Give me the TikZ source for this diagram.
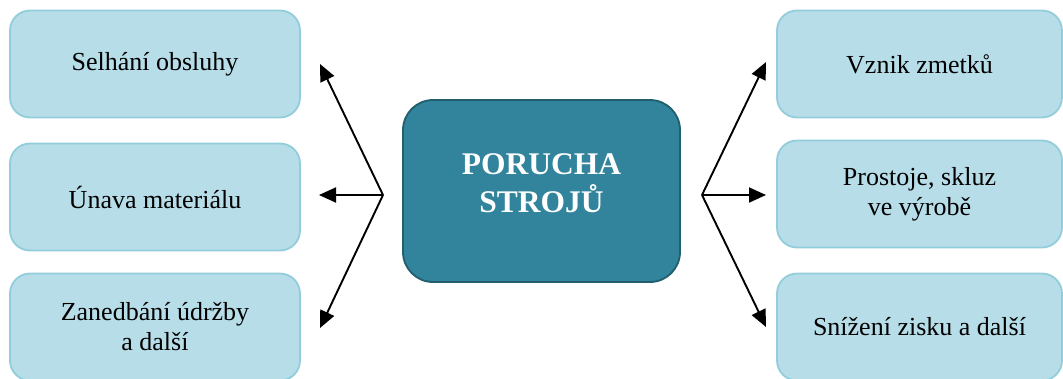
\documentclass[tikz,border=0pt]{standalone}
\usepackage{fontspec}
\setmainfont{Liberation Serif}
\usetikzlibrary{arrows.meta}
\definecolor{boxfill}{HTML}{B7DDE8}
\definecolor{boxedge}{HTML}{92CDDC}
\definecolor{mainfill}{HTML}{31849B}
\definecolor{mainedge}{HTML}{215E6E}
\begin{document}
\begin{tikzpicture}[x=1pt,y=-1pt,
  sidebox/.style={draw=boxedge, fill=boxfill, line width=1.8pt, rounded corners=20pt,
    minimum width=290pt, minimum height=107pt, inner sep=0pt, align=center,
    font=\fontsize{26}{30}\selectfont, text=black},
  mainbox/.style={draw=mainedge, fill=mainfill, line width=1.8pt, rounded corners=30pt,
    minimum width=277pt, minimum height=182pt, inner sep=0pt, align=center,
    font=\fontsize{31.5}{38}\selectfont\bfseries, text=white, text depth=16pt},
  arr/.style={line width=1.9pt, -{Triangle[length=17pt,width=15pt]}}]
\useasboundingbox (0,0) rectangle (1063,378);
\node[sidebox] (l1) at (155,64) {Selhání obsluhy};
\node[sidebox] (l2) at (155,197) {Únava materiálu};
\node[sidebox] (l3) at (155,327) {Zanedbání údržby\\a další};
\node[sidebox, minimum width=285pt] (r1) at (919.5,64) {Vznik zmetků};
\node[sidebox, minimum width=285pt] (r2) at (919.5,194) {Prostoje, skluz\\ve výrobě};
\node[sidebox, minimum width=285pt] (r3) at (919.5,327) {Snížení zisku a další};
\node[mainbox] (m) at (541.5,191) {PORUCHA\\STROJŮ};
\coordinate (lo) at (383,195);
\coordinate (ro) at (702,195);
\coordinate (lt1) at (320,64);
\coordinate (lt2) at (319,195);
\coordinate (lt3) at (320,328);
\coordinate (rt1) at (766,62);
\coordinate (rt2) at (766,195);
\coordinate (rt3) at (766,327);
\draw[arr] (lo) -- (lt1);
\draw[arr] (lo) -- (lt2);
\draw[arr] (lo) -- (lt3);
\draw[arr] (ro) -- (rt1);
\draw[arr] (ro) -- (rt2);
\draw[arr] (ro) -- (rt3);
\end{tikzpicture}
\end{document}
